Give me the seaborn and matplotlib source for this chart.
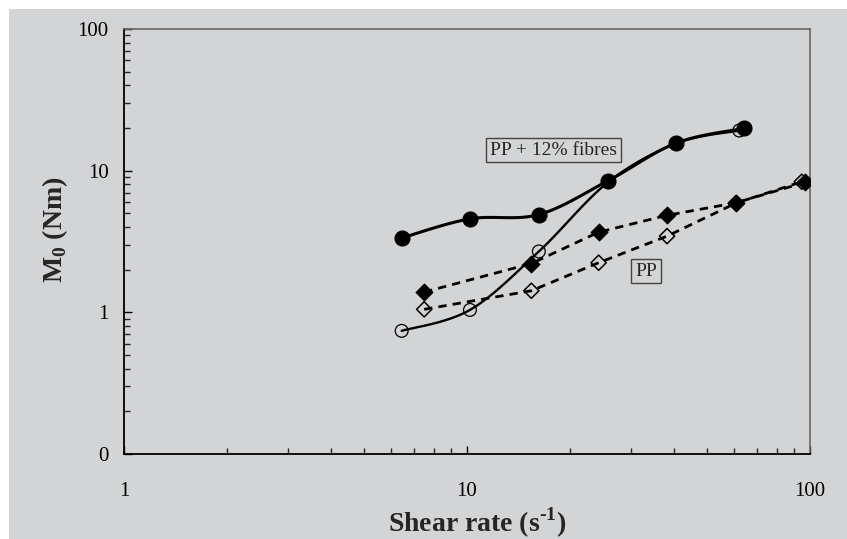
import numpy as np
import pandas as pd
import seaborn as sns
import matplotlib.pyplot as plt
from matplotlib.patches import Rectangle
from matplotlib.ticker import FixedLocator, NullFormatter

# Data (shear rate in 1/s, M0 in Nm)
fib_full_x = [6.45, 10.2, 16.2, 25.8, 40.8, 64.3]
fib_full_y = [3.35, 4.57, 4.9, 8.5, 15.7, 19.9]
fib_open_x = [6.45, 10.2, 16.2, 25.8, 40.8, 62.2]
fib_open_y = [0.74, 1.04, 2.69, 8.3, 15.6, 19.2]
pp_full_x = [7.5, 15.4, 24.2, 38.3, 60.8, 96.7]
pp_full_y = [1.39, 2.21, 3.68, 4.84, 5.93, 8.27]
pp_open_x = [7.5, 15.4, 24.2, 38.3, 60.8, 94.6]
pp_open_y = [1.05, 1.42, 2.24, 3.45, 5.9, 8.35]

x_ticks = [1, 10, 100]
x_labels = ["1", "10", "100"]
y_ticks = [0.1, 1, 10, 100]
y_labels = ["0", "1", "10", "100"]

BG = "#d3d4d6"


def smooth(x, y, n=24):
    # Excel-like smoothed line: cubic Bezier through points in log-log space
    p = np.column_stack([np.log10(x), np.log10(y)])
    out = [p[0]]
    for i in range(len(p) - 1):
        p0 = p[i - 1] if i > 0 else p[i]
        p1, p2 = p[i], p[i + 1]
        p3 = p[i + 2] if i + 2 < len(p) else p[i + 1]
        c1 = p1 + (p2 - p0) / 6
        c2 = p2 - (p3 - p1) / 6
        t = np.linspace(0, 1, n)[1:, None]
        seg = (1 - t) ** 3 * p1 + 3 * (1 - t) ** 2 * t * c1 + 3 * (1 - t) * t ** 2 * c2 + t ** 3 * p2
        out.extend(seg)
    out = np.array(out)
    return pd.DataFrame({"x": 10 ** out[:, 0], "y": 10 ** out[:, 1]})


sns.set_style("white")
plt.rcParams["font.family"] = ["Liberation Serif", "DejaVu Serif"]
# math text is only used in the bold axis titles
plt.rcParams["mathtext.fontset"] = "custom"
plt.rcParams["mathtext.rm"] = "Liberation Serif:bold"
plt.rcParams["mathtext.bf"] = "Liberation Serif:bold"

fig = plt.figure(figsize=(8.47, 5.39), dpi=100, facecolor="white")
fig.patches.append(Rectangle((9 / 847, 0), 1, 1 - 9 / 539, transform=fig.transFigure,
                             facecolor=BG, edgecolor="none", zorder=-10))
ax = fig.add_axes([124 / 847, 1 - 454 / 539, (810 - 124) / 847, (454 - 29) / 539])
ax.set_facecolor(BG)
ax.set_xscale("log")
ax.set_yscale("log")

# dashed PP series (straight segments)
sns.lineplot(x=pp_open_x, y=pp_open_y, ax=ax, color="black", lw=2, sort=False,
             estimator=None, linestyle=(0, (3, 2.2)), zorder=2)
sns.lineplot(x=pp_full_x, y=pp_full_y, ax=ax, color="black", lw=2, sort=False,
             estimator=None, linestyle=(0, (3, 2.2)), zorder=2)
sns.scatterplot(x=pp_open_x, y=pp_open_y, ax=ax, marker="D", s=60,
                facecolor="none", edgecolor="black", linewidth=1.1, zorder=3)
sns.scatterplot(x=pp_full_x, y=pp_full_y, ax=ax, marker="D", s=75,
                color="black", edgecolor="black", zorder=3)

# smoothed fibre series
d_open = smooth(fib_open_x, fib_open_y)
d_full = smooth(fib_full_x, fib_full_y)
sns.lineplot(data=d_open, x="x", y="y", ax=ax, color="black", lw=1.7, sort=False,
             estimator=None, zorder=4)
sns.scatterplot(x=fib_open_x, y=fib_open_y, ax=ax, marker="o", s=85,
                facecolor="none", edgecolor="black", linewidth=0.9, zorder=4)
sns.lineplot(data=d_full, x="x", y="y", ax=ax, color="black", lw=2.2, sort=False,
             estimator=None, zorder=5)
sns.scatterplot(x=fib_full_x, y=fib_full_y, ax=ax, marker="o", s=115,
                color="black", edgecolor="black", zorder=5)

ax.set_xlim(1, 100)
ax.set_ylim(0.1, 100)
ax.xaxis.set_major_locator(FixedLocator(x_ticks))
ax.set_xticklabels(x_labels)
ax.yaxis.set_major_locator(FixedLocator(y_ticks))
ax.set_yticklabels(y_labels)
minor_x = [m * 10 ** k for k in range(0, 2) for m in range(2, 10)]
minor_y = [m * 10 ** k for k in range(-1, 2) for m in range(2, 10)]
ax.xaxis.set_minor_locator(FixedLocator(minor_x))
ax.yaxis.set_minor_locator(FixedLocator(minor_y))
ax.xaxis.set_minor_formatter(NullFormatter())
ax.yaxis.set_minor_formatter(NullFormatter())

ax.tick_params(axis="both", which="major", direction="in", length=5.5, width=1,
               labelsize=15, colors="black", bottom=True, left=True, top=False, right=False)
ax.tick_params(axis="both", which="minor", direction="in", length=4.3, width=1,
               bottom=True, left=True, top=False, right=False)
ax.tick_params(axis="x", which="major", pad=20)
ax.tick_params(axis="y", which="major", pad=11)

for side in ["left", "bottom"]:
    ax.spines[side].set_color("black")
    ax.spines[side].set_linewidth(1.3)
for side in ["top", "right"]:
    ax.spines[side].set_color("#666666")
    ax.spines[side].set_linewidth(1.2)

ax.set_xlabel(r"Shear rate (s$^{\text{-1}}$)", fontsize=20, fontweight="bold")
ax.set_ylabel(r"M$_{0}$ (Nm)", fontsize=20, fontweight="bold")
ax.xaxis.set_label_coords(0.515, -0.122)
ax.yaxis.set_label_coords(-0.079, 0.527)

box = dict(boxstyle="square,pad=0.2", facecolor=BG, edgecolor="#444444", linewidth=1)
ax.text(17.9, 13.97, "PP + 12% fibres", fontsize=14, ha="center", va="center", bbox=box)
ax.text(33.3, 1.957, "PP", fontsize=14, ha="center", va="center", bbox=box)

fig.savefig("out.png", dpi=100, facecolor=fig.get_facecolor())
